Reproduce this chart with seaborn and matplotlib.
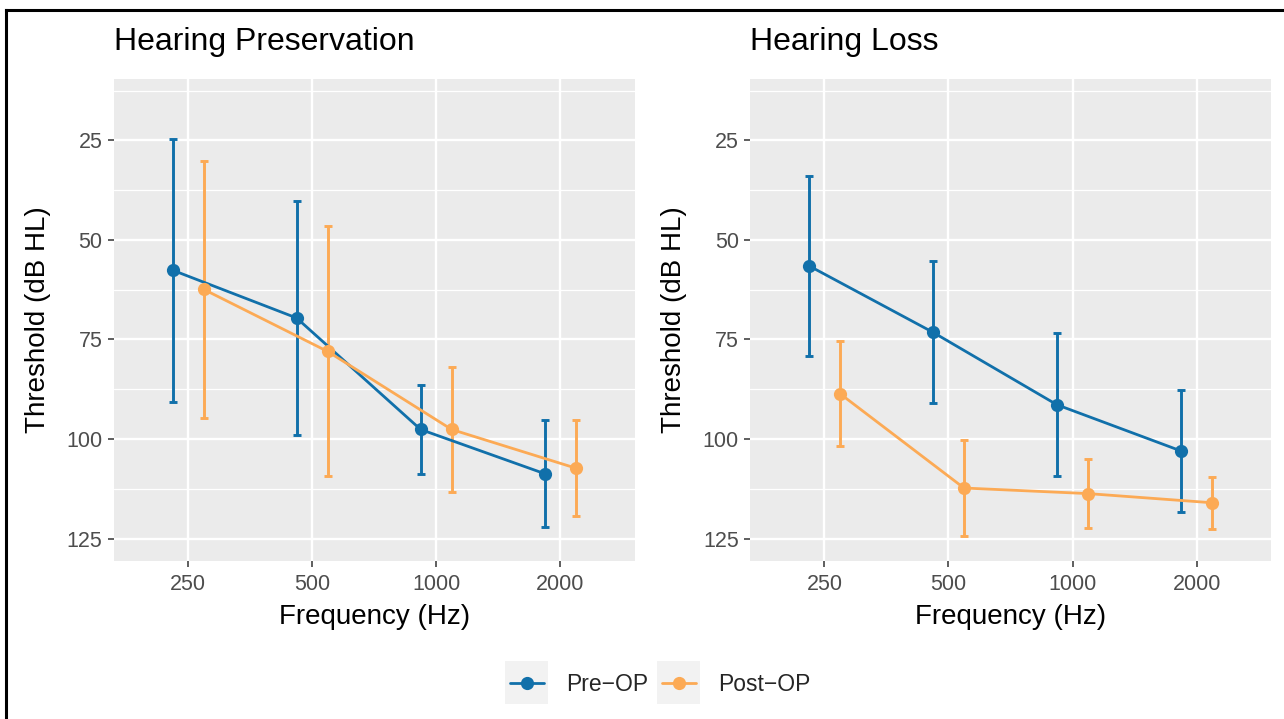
import numpy as np
import pandas as pd
import matplotlib
matplotlib.use("Agg")
import matplotlib.pyplot as plt
from matplotlib.lines import Line2D
from matplotlib.patches import Rectangle
import seaborn as sns

# Datos (media y desviacion estandar)
freqs = [250, 500, 1000, 2000]
phases = ["Pre\u2212OP", "Post\u2212OP"]
panels = ["Hearing Preservation", "Hearing Loss"]

hp_pre_mean = [57.6, 69.6, 97.6, 108.7]
hp_pre_sd = [33.0, 29.3, 11.1, 13.5]
hp_post_mean = [62.4, 78.0, 97.6, 107.3]
hp_post_sd = [32.3, 31.4, 15.8, 12.1]

hl_pre_mean = [56.5, 73.2, 91.4, 103.0]
hl_pre_sd = [22.6, 17.8, 18.0, 15.2]
hl_post_mean = [88.6, 112.3, 113.7, 116.0]
hl_post_sd = [13.1, 12.1, 8.7, 6.5]

colors = {"Pre\u2212OP": "#1170AA", "Post\u2212OP": "#FCAA55"}
dodge = {"Pre\u2212OP": -0.125, "Post\u2212OP": 0.125}

rows = []
series = {
    ("Hearing Preservation", "Pre\u2212OP"): (hp_pre_mean, hp_pre_sd),
    ("Hearing Preservation", "Post\u2212OP"): (hp_post_mean, hp_post_sd),
    ("Hearing Loss", "Pre\u2212OP"): (hl_pre_mean, hl_pre_sd),
    ("Hearing Loss", "Post\u2212OP"): (hl_post_mean, hl_post_sd),
}
for (panel, phase), (m, s) in series.items():
    for f, mv, sv in zip(freqs, m, s):
        rows.append({"panel": panel, "phase": phase, "freq": f,
                     "x": f * 2 ** dodge[phase], "mean": mv, "sd": sv})
df = pd.DataFrame(rows)

sns.set_theme(style="darkgrid", rc={
    "axes.facecolor": "#EBEBEB",
    "grid.color": "white",
    "axes.edgecolor": "#EBEBEB",
})
plt.rcParams["font.family"] = ["Liberation Sans", "DejaVu Sans"]

W, H = 1284, 719
fig = plt.figure(figsize=(W / 100, H / 100), dpi=100)

lefts = [113.6, 750.0]
for panel, left in zip(panels, lefts):
    ax = fig.add_axes([left / W, (H - 560.5) / H, 521 / W, 481.5 / H])
    sub = df[df["panel"] == panel]
    for phase in phases:
        d = sub[sub["phase"] == phase]
        ax.errorbar(d["x"], d["mean"], yerr=d["sd"], fmt="none",
                    ecolor=colors[phase], elinewidth=2.1, capsize=3.0,
                    capthick=2.1, zorder=2)
    sns.lineplot(data=sub, x="x", y="mean", hue="phase", hue_order=phases,
                 palette=colors, marker="o", markersize=9.5, markeredgewidth=0,
                 linewidth=2.0, legend=False, ax=ax, zorder=3)

    ax.set_xscale("log", base=2)
    ax.set_xlim(250 * 2 ** -0.6, 2000 * 2 ** 0.6)
    ax.set_xticks(freqs)
    ax.set_xticklabels([str(f) for f in freqs])
    ax.xaxis.set_minor_locator(matplotlib.ticker.NullLocator())
    ax.set_ylim(130.5, 9.6)
    ax.set_yticks([25, 50, 75, 100, 125])
    ax.set_yticks([12.5, 37.5, 62.5, 87.5, 112.5], minor=True)
    ax.grid(which="major", color="white", linewidth=1.7)
    ax.grid(which="minor", axis="y", color="white", linewidth=0.9)
    ax.tick_params(which="major", length=4.5, width=1.1, color="#333333",
                   labelsize=15.5, labelcolor="#4D4D4D", pad=3.5,
                   bottom=True, left=True)
    ax.tick_params(axis="x", which="major", pad=5)
    ax.tick_params(which="minor", length=0)
    for sp in ax.spines.values():
        sp.set_visible(False)

    ax.set_title(panel, loc="left", fontsize=23, pad=21, color="black")
    ax.set_xlabel("Frequency (Hz)", fontsize=20, color="black")
    ax.set_ylabel("Threshold (dB HL)", fontsize=20, color="black")
    ax.xaxis.set_label_coords(0.5, -0.09)
    ax.yaxis.set_label_coords(-0.12, 0.5)

handles = [Line2D([0], [0], color=colors[p], lw=2.0, marker="o",
                  markersize=9.5, markeredgewidth=0) for p in phases]
leg = fig.legend(handles, phases, loc="center",
                 bbox_to_anchor=(660 / W, 1 - 684.5 / H), ncol=2,
                 frameon=False, fontsize=16.5, handlelength=1.5,
                 handletextpad=0.95, columnspacing=0.6)

# fondo gris de las claves de la leyenda
fig.canvas.draw()
rend = fig.canvas.get_renderer()
for h in leg.legend_handles:
    bb = h.get_window_extent(rend)
    cx, cy = (bb.x0 + bb.x1) / 2, (bb.y0 + bb.y1) / 2
    fig.add_artist(Rectangle(((cx - 21.5) / W, (cy - 21.5) / H), 43 / W, 43 / H,
                             transform=fig.transFigure, facecolor="#F2F2F2",
                             edgecolor="none", zorder=1))

# borde negro (arriba e izquierda)
fig.add_artist(Line2D([6 / W, 1], [1 - 10 / H, 1 - 10 / H], transform=fig.transFigure,
                      color="black", lw=2.2, solid_capstyle="projecting"))
fig.add_artist(Line2D([6 / W, 6 / W], [0, 1 - 10 / H], transform=fig.transFigure,
                      color="black", lw=2.2, solid_capstyle="projecting"))

fig.savefig("out.png", dpi=100)
